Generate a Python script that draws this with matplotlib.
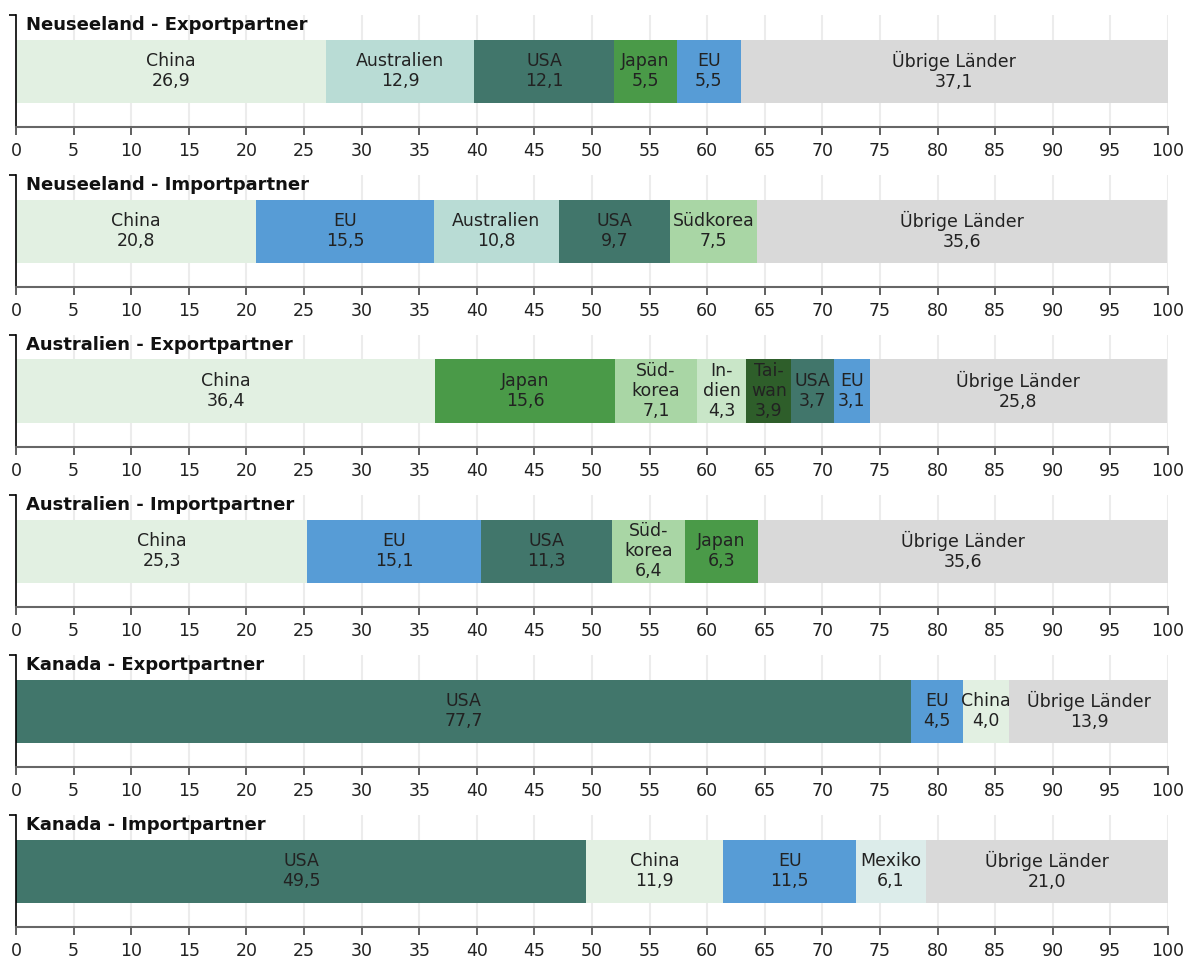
import matplotlib
matplotlib.use("Agg")
import matplotlib.pyplot as plt

plt.rcParams['font.family'] = ['DejaVu Sans']

# ============ 数据 ============
titles = [
    "Neuseeland - Exportpartner",
    "Neuseeland - Importpartner",
    "Australien - Exportpartner",
    "Australien - Importpartner",
    "Kanada - Exportpartner",
    "Kanada - Importpartner",
]

nz_exp_partners = ["China", "Australien", "USA", "Japan", "EU", "Übrige Länder"]
nz_exp_values = [26.9, 12.9, 12.1, 5.5, 5.5, 37.1]

nz_imp_partners = ["China", "EU", "Australien", "USA", "Südkorea", "Übrige Länder"]
nz_imp_values = [20.8, 15.5, 10.8, 9.7, 7.5, 35.6]

au_exp_partners = ["China", "Japan", "Südkorea", "Indien", "Taiwan", "USA", "EU", "Übrige Länder"]
au_exp_values = [36.4, 15.6, 7.1, 4.3, 3.9, 3.7, 3.1, 25.8]

au_imp_partners = ["China", "EU", "USA", "Südkorea", "Japan", "Übrige Länder"]
au_imp_values = [25.3, 15.1, 11.3, 6.4, 6.3, 35.6]

ca_exp_partners = ["USA", "EU", "China", "Übrige Länder"]
ca_exp_values = [77.7, 4.5, 4.0, 13.9]

ca_imp_partners = ["USA", "China", "EU", "Mexiko", "Übrige Länder"]
ca_imp_values = [49.5, 11.9, 11.5, 6.1, 21.0]

panels = [
    (nz_exp_partners, nz_exp_values),
    (nz_imp_partners, nz_imp_values),
    (au_exp_partners, au_exp_values),
    (au_imp_partners, au_imp_values),
    (ca_exp_partners, ca_exp_values),
    (ca_imp_partners, ca_imp_values),
]

# Silbentrennung für schmale Balken (nur im Australien-Export / -Import)
hyphenated = {
    (2, "Südkorea"): "Süd-\nkorea",
    (2, "Indien"): "In-\ndien",
    (2, "Taiwan"): "Tai-\nwan",
    (3, "Südkorea"): "Süd-\nkorea",
}

colors = {
    "China": "#e2f0e2",
    "Australien": "#b9dcd5",
    "USA": "#41766b",
    "Japan": "#4a9a48",
    "EU": "#579cd6",
    "Südkorea": "#a9d6a5",
    "Indien": "#c9e6c8",
    "Taiwan": "#2e5e2a",
    "Mexiko": "#dcecea",
    "Übrige Länder": "#d9d9d9",
}

xticks = list(range(0, 101, 5))

# ============ 布局 ============
W, H = 1186, 960
fig = plt.figure(figsize=(W / 100, H / 100), dpi=100)

ax_left, ax_width = 16, 1152
ax_top0, ax_height, step = 15, 112, 160

for i, (title, (partners, values)) in enumerate(zip(titles, panels)):
    top = ax_top0 + i * step
    ax = fig.add_axes([ax_left / W, (H - top - ax_height) / H, ax_width / W, ax_height / H])
    ax.set_xlim(0, 100)
    ax.set_ylim(0, ax_height)

    # 网格线
    for t in xticks[1:]:
        ax.axvline(t, color="#ececec", lw=1.5, zorder=0)

    left = 0.0
    for name, v in zip(partners, values):
        ax.barh(56, v, left=left, height=63, color=colors[name], zorder=2)
        label = hyphenated.get((i, name), name)
        txt = label + "\n" + f"{v:.1f}".replace(".", ",")
        ax.text(left + v / 2, 56, txt, ha="center", va="center", multialignment="center",
                fontsize=12.5, color="#222222", zorder=3, linespacing=1.15)
        left += v

    ax.text(10 / ax_width, (ax_height - 10) / ax_height, title, transform=ax.transAxes,
            ha="left", va="center", fontsize=13, fontweight="bold", color="#111111")

    ax.spines["top"].set_visible(False)
    ax.spines["right"].set_visible(False)
    ax.spines["left"].set_color("#000000")
    ax.spines["left"].set_linewidth(1.2)
    ax.spines["bottom"].set_color("#666666")
    ax.spines["bottom"].set_linewidth(1.5)

    ax.set_xticks(xticks)
    ax.set_xticklabels([str(t) for t in xticks])
    ax.tick_params(axis="x", length=6, width=1.2, color="#444444", pad=5,
                   labelsize=12.5, labelcolor="#222222")
    ax.set_yticks([ax_height])
    ax.set_yticklabels([])
    ax.tick_params(axis="y", length=5, width=1.2, color="#000000")

fig.savefig("out.png", dpi=100)
plt.close(fig)
